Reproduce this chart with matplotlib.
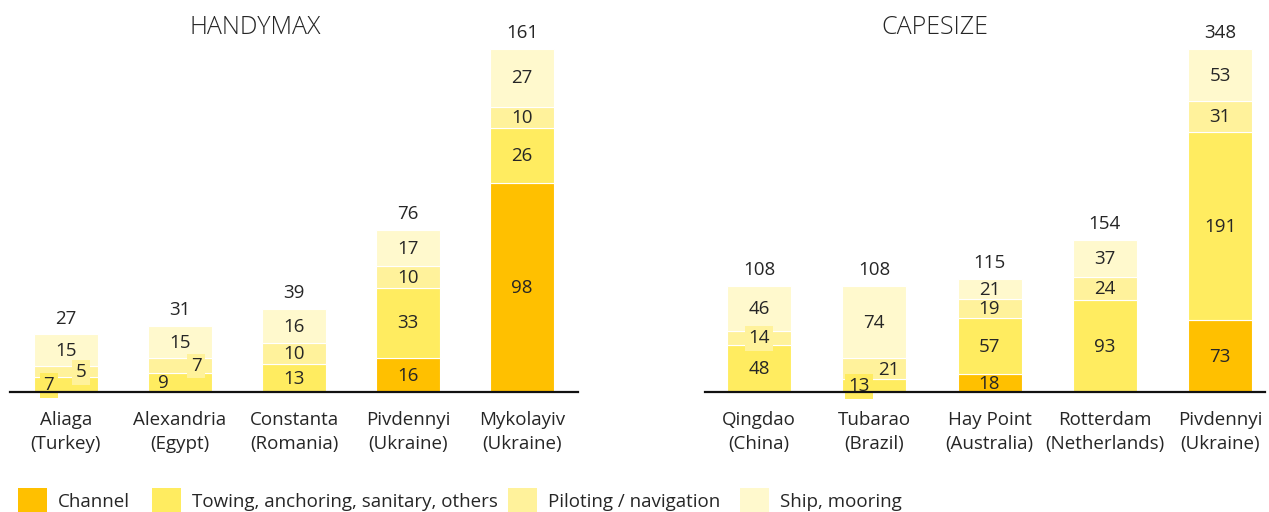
import matplotlib
matplotlib.use("Agg")
import matplotlib.pyplot as plt
from matplotlib.patches import Rectangle

plt.rcParams['font.family'] = ['Open Sans', 'DejaVu Sans']

# ---- data ----
series_names = ["Channel", "Towing, anchoring, sanitary, others",
                "Piloting / navigation", "Ship, mooring"]
series_colors = ["#FFC000", "#FFEC60", "#FFF29B", "#FFF9CD"]

handy_ports = ["Aliaga\n(Turkey)", "Alexandria\n(Egypt)", "Constanta\n(Romania)",
               "Pivdennyi\n(Ukraine)", "Mykolayiv\n(Ukraine)"]
handy_channel = [0, 0, 0, 16, 98]
handy_towing = [7, 9, 13, 33, 26]
handy_piloting = [5, 7, 10, 10, 10]
handy_mooring = [15, 15, 16, 17, 27]

cape_ports = ["Qingdao\n(China)", "Tubarao\n(Brazil)", "Hay Point\n(Australia)",
              "Rotterdam\n(Netherlands)", "Pivdennyi\n(Ukraine)"]
cape_channel = [0, 0, 18, 0, 73]
cape_towing = [48, 13, 57, 93, 191]
cape_piloting = [14, 21, 19, 24, 31]
cape_mooring = [46, 74, 21, 37, 53]

W, H = 1269, 512
fig = plt.figure(figsize=(W / 100, H / 100), dpi=100)

TXT = "#262626"
FS = 13.5

# label placement tweaks for thin segments: (bar, series) -> (dx px, boxed)
handy_tweaks = {(0, 1): (-17, True), (0, 2): (15, True),
                (1, 1): (-17, False), (1, 2): (16, True)}
cape_tweaks = {(0, 2): (0, True), (1, 1): (-15, True), (1, 2): (15, False)}


def draw_panel(left_px, right_px, first_px, step_px, ports, stacks, tweaks, title, title_x):
    bottom_px, top_px = 392, 49
    ax = fig.add_axes([left_px / W, (H - bottom_px) / H,
                       (right_px - left_px) / W, (bottom_px - top_px) / H])
    n = len(ports)
    xmin = -(first_px - left_px) / step_px
    xmax = (right_px - first_px) / step_px
    ax.set_xlim(xmin, xmax)
    totals = [sum(s[i] for s in stacks) for i in range(n)]
    ax.set_ylim(0, max(totals))
    bw = 64 / step_px
    xs = list(range(n))
    base = [0] * n
    for k, (vals, col) in enumerate(zip(stacks, series_colors)):
        ax.bar(xs, vals, bw, bottom=base, color=col, edgecolor="white",
               linewidth=0.8, zorder=2)
        for i, v in enumerate(vals):
            if v <= 0:
                continue
            dx, boxed = tweaks.get((i, k), (0, False))
            kw = {}
            if boxed:
                kw["bbox"] = dict(boxstyle="square,pad=0.18", fc=col, ec="none")
            ax.annotate(str(v), (i, base[i] + v / 2), xytext=(dx * 0.72, -0.5),
                        textcoords="offset points", ha="center", va="center",
                        fontsize=FS, color=TXT, zorder=4, annotation_clip=False, **kw)
        base = [b + v for b, v in zip(base, vals)]
    for i, t in enumerate(totals):
        ax.annotate(str(t), (i, t), xytext=(0, 11.5), textcoords="offset points",
                    ha="center", va="center", fontsize=FS, color=TXT,
                    annotation_clip=False)
    for s in ("top", "left", "right"):
        ax.spines[s].set_visible(False)
    ax.spines["bottom"].set_linewidth(1.6)
    ax.spines["bottom"].set_color("#111111")
    ax.spines["bottom"].set_zorder(5)
    ax.set_yticks([])
    ax.set_xticks(xs)
    ax.set_xticklabels(ports, fontsize=FS, color=TXT, linespacing=1.38)
    ax.tick_params(axis="x", length=0, pad=14)
    ax.patch.set_alpha(0)
    fig.text(title_x / W, (H - 28) / H, title, ha="center", va="center",
             fontsize=18, color=TXT, fontweight="light")


draw_panel(10, 578, 66, 114, handy_ports,
           [handy_channel, handy_towing, handy_piloting, handy_mooring],
           handy_tweaks, "HANDYMAX", 255)
draw_panel(705, 1265, 759, 115.25, cape_ports,
           [cape_channel, cape_towing, cape_piloting, cape_mooring],
           cape_tweaks, "CAPESIZE", 935)

# legend along the bottom edge
legend_sq_x = [18, 152, 508, 740]
for name, col, sx in zip(series_names, series_colors, legend_sq_x):
    fig.add_artist(Rectangle((sx / W, -0.01), 29 / W, (H - 488) / H + 0.01,
                             transform=fig.transFigure, fc=col, ec="none"))
    fig.text((sx + 40) / W, (H - 502) / H, name, ha="left", va="center",
             fontsize=FS, color=TXT)

fig.savefig("out.png", dpi=100, facecolor="white")
